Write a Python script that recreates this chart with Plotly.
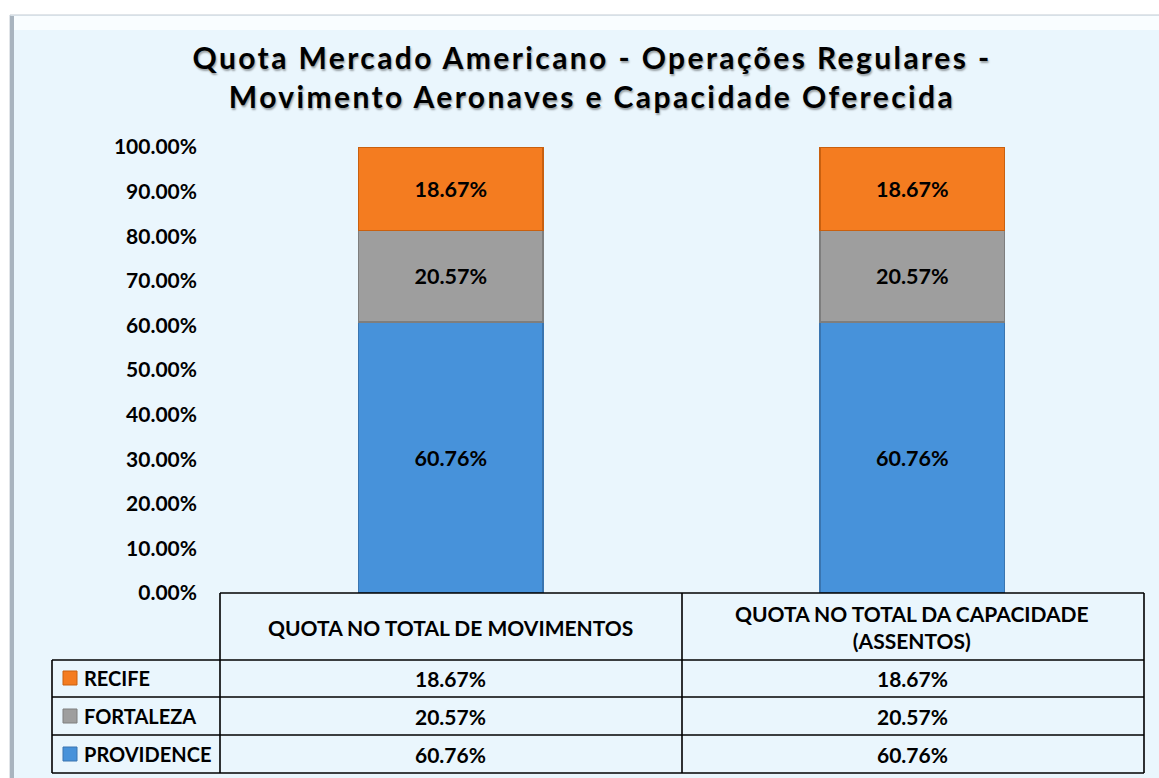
import plotly.graph_objects as go

categories = ["QUOTA NO TOTAL DE MOVIMENTOS", "QUOTA NO TOTAL DA CAPACIDADE<br>(ASSENTOS)"]
series_names = ["PROVIDENCE", "FORTALEZA", "RECIFE"]
providence = [0.6076, 0.6076]
fortaleza = [0.2057, 0.2057]
recife = [0.1867, 0.1867]
colors = {"PROVIDENCE": "#4792DA", "FORTALEZA": "#9E9E9E", "RECIFE": "#F47C20"}
edge = {"PROVIDENCE": "#3A75B0", "FORTALEZA": "#7E7E7E", "RECIFE": "#C9600F"}
values = {"PROVIDENCE": providence, "FORTALEZA": fortaleza, "RECIFE": recife}

W, H = 1159, 778
L, R, T, B = 220, 1143, 147, 593
FONT = "Lato"
FS = 21

def px(x):
    return (x - L) / (R - L)

def py(y):
    return (B - y) / (B - T)

fig = go.Figure()
xs = [0, 1]
for name in series_names:
    fig.add_trace(go.Bar(
        x=xs, y=values[name], name=name,
        marker=dict(color=colors[name], line=dict(color=edge[name], width=1.5)),
        text=[f"{v:.2%}" for v in values[name]],
        textposition="inside", insidetextanchor="middle",
        textfont=dict(family=FONT, size=FS + 0.5, color="black", weight="bold"),
        textangle=0, width=0.4,
    ))

shapes = []
# background frame
shapes.append(dict(type="rect", xref="paper", yref="paper", x0=px(10), x1=px(1160), y0=py(15), y1=py(779),
                   fillcolor="#EAF6FD", line=dict(color="#C3CAD2", width=1), layer="below"))
shapes.append(dict(type="rect", xref="paper", yref="paper", x0=px(11), x1=px(1160), y0=py(16), y1=py(30),
                   fillcolor="#F9FDFF", line=dict(width=0), layer="below"))
shapes.append(dict(type="rect", xref="paper", yref="paper", x0=px(10), x1=px(14), y0=py(16), y1=py(779),
                   fillcolor="#A9B4BF", line=dict(width=0), layer="below"))

def hline(x0, x1, y):
    shapes.append(dict(type="line", xref="paper", yref="paper", x0=px(x0), x1=px(x1), y0=py(y), y1=py(y),
                       line=dict(color="black", width=1.6)))

def vline(x, y0, y1):
    shapes.append(dict(type="line", xref="paper", yref="paper", x0=px(x), x1=px(x), y0=py(y0), y1=py(y1),
                       line=dict(color="black", width=1.6)))

hline(220, 1144, 593)
for yy in [660, 697, 735, 773]:
    hline(52, 1144, yy)
vline(220, 593, 773)
vline(682, 593, 773)
vline(1144, 593, 773)
vline(52, 660, 773)

annotations = []
# header
for i, c in enumerate(categories):
    annotations.append(dict(x=xs[i], xref="x", y=py(627), yref="paper", text=c, showarrow=False,
                            font=dict(family=FONT, size=FS, color="black", weight="bold"),
                            xanchor="center", yanchor="middle"))
rows = [("RECIFE", 678), ("FORTALEZA", 716), ("PROVIDENCE", 754)]
for name, yc in rows:
    shapes.append(dict(type="rect", xref="paper", yref="paper", x0=px(63), x1=px(77), y0=py(yc - 7), y1=py(yc + 7),
                       fillcolor=colors[name], line=dict(color=edge[name], width=1)))
    annotations.append(dict(x=px(82), xref="paper", y=py(yc), yref="paper", text=name, showarrow=False,
                            font=dict(family=FONT, size=20, color="black", weight="bold"),
                            xanchor="left", yanchor="middle"))
    for i in range(2):
        annotations.append(dict(x=xs[i], xref="x", y=py(yc), yref="paper", text=f"{values[name][i]:.2%}",
                                showarrow=False, font=dict(family=FONT, size=FS, color="black", weight="bold"),
                                xanchor="center", yanchor="middle"))

title_text = ("<span style='letter-spacing:2.4px;text-shadow:1px 2px 2px rgba(0,0,0,0.35)'>"
              "Quota Mercado Americano - Operações Regulares -<br>"
              "Movimento Aeronaves e Capacidade Oferecida</span>")

fig.update_layout(
    width=W, height=H,
    margin=dict(l=L, r=W - R, t=T, b=H - B, pad=0),
    paper_bgcolor="white", plot_bgcolor="rgba(0,0,0,0)",
    barmode="stack", showlegend=False,
    title=dict(text=title_text, x=px(592), xref="paper", xanchor="center", y=1 - 69 / H, yanchor="middle",
               font=dict(family=FONT, size=30, color="black", weight="bold")),
    xaxis=dict(range=[-0.5, 1.5], showticklabels=False, showgrid=False, zeroline=False, showline=False, ticks=""),
    yaxis=dict(range=[0, 1], dtick=0.1, tickformat=".2%", showgrid=False, zeroline=False, showline=False,
               ticks="", ticklabelstandoff=22,
               tickfont=dict(family=FONT, size=FS, color="black", weight="bold")),
    shapes=shapes, annotations=annotations,
)

fig.write_html("out.html", config={"displayModeBar": False},
               post_script="document.body.style.margin='0';document.body.style.overflow='hidden';")
